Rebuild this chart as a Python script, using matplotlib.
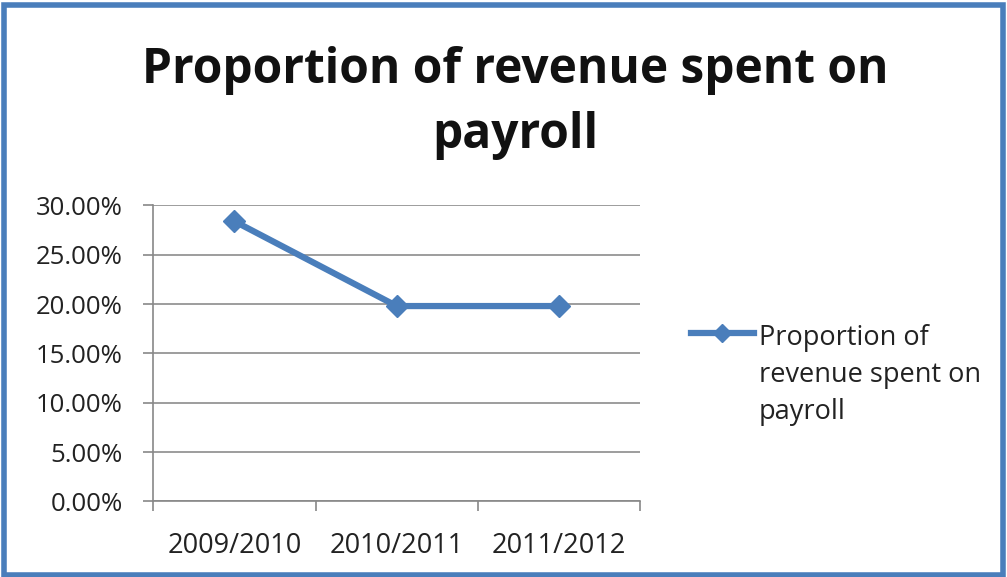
import matplotlib.pyplot as plt
from matplotlib.patches import Rectangle
from matplotlib.ticker import FuncFormatter

# Payroll share of revenue per season
seasons = ["2009/2010", "2010/2011", "2011/2012"]
payroll_share = [0.284, 0.198, 0.198]
y_ticks = [0.0, 0.05, 0.10, 0.15, 0.20, 0.25, 0.30]

line_blue = "#4a7ebb"
axis_grey = "#888888"

plt.rcParams["font.family"] = ["Open Sans", "DejaVu Sans"]

fig = plt.figure(figsize=(10.07, 5.77), dpi=100)
fig.patch.set_facecolor("white")

# Blue chart frame
fig.patches.append(Rectangle((0.004, 0.004), 0.992, 0.988, transform=fig.transFigure,
                             fill=False, edgecolor=line_blue, linewidth=4))

fig.text(0.512, 0.822, "Proportion of revenue spent on\npayroll", ha="center", va="center",
         fontsize=34.5, fontweight="bold", linespacing=1.44, color="#111111")

ax = fig.add_axes([0.152, 0.131, 0.484, 0.513])
x = range(len(seasons))
ax.plot(x, payroll_share, color=line_blue, linewidth=4.5, marker="D", markersize=11,
        label="Proportion of\nrevenue spent on\npayroll")

ax.set_xlim(-0.5, len(seasons) - 0.5)
ax.set_ylim(0, 0.30)
ax.set_yticks(y_ticks)
ax.yaxis.set_major_formatter(FuncFormatter(lambda v, p: f"{v * 100:.2f}%"))
ax.set_xticks(list(x))
ax.set_xticklabels(seasons)
ax.set_xticks([i - 0.5 for i in range(len(seasons) + 1)], minor=True)
ax.tick_params(axis="x", which="major", length=0, pad=22, labelsize=19.5, labelcolor="#222222")
ax.tick_params(axis="x", which="minor", length=7, color=axis_grey, width=1.2)
ax.tick_params(axis="y", length=7, color=axis_grey, width=1.2, labelsize=18.5, pad=15,
               labelcolor="#222222")

ax.grid(axis="y", color="#8c8c8c", linewidth=1.2)
ax.set_axisbelow(True)
for side in ["top", "right"]:
    ax.spines[side].set_visible(False)
for side in ["left", "bottom"]:
    ax.spines[side].set_color(axis_grey)
    ax.spines[side].set_linewidth(1.2)

leg = fig.legend(loc="upper left", bbox_to_anchor=(0.673, 0.462), frameon=False,
                 fontsize=19.5, handlelength=2.3, handletextpad=0.2, borderpad=0)
for t in leg.get_texts():
    t.set_linespacing(1.42)
    t.set_color("#222222")
leg.legend_handles[0].set_markersize(9)
# put the legend line beside the first line of the label
for row in leg._legend_handle_box.get_children()[0].get_children():
    row.align = "top"

fig.savefig("out.png", dpi=100)
